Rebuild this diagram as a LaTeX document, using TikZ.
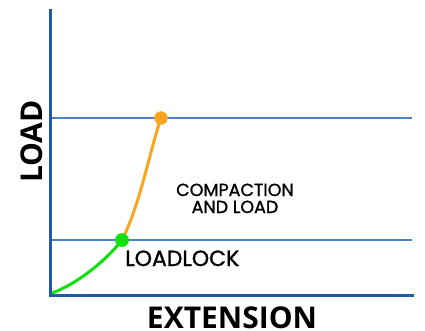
\documentclass[tikz,border=0pt]{standalone}
\usepackage{fontspec}
\newfontfamily\labfont{Poppins}[FakeBold=1.2]
\newfontfamily\axfont{Open Sans}
\definecolor{axisblue}{HTML}{1F5AA8}
\definecolor{gridblue}{HTML}{4D80C4}
\definecolor{lockgreen}{HTML}{10E010}
\definecolor{loadorange}{HTML}{F9A51E}
\begin{document}
\begin{tikzpicture}[x=1pt,y=-1pt,
  axisline/.style={draw=axisblue,line width=3pt},
  gridline/.style={draw=gridblue,line width=1.5pt},
  dot/.style={circle,inner sep=0pt,minimum size=13.5pt},
  lab/.style={font=\labfont\fontsize{17.5}{17}\selectfont,text=black,inner sep=0pt},
  biglab/.style={font=\labfont\fontsize{22}{24}\selectfont,text=black,inner sep=0pt},
  axlab/.style={font=\axfont\bfseries\fontsize{30}{34}\selectfont,text=black,inner sep=0pt}]
\useasboundingbox (0,0) rectangle (425,331);
\coordinate (top) at (50,11);
\coordinate (origin) at (50,295);
\coordinate (xend) at (412,295);
\coordinate (h1a) at (51,118);
\coordinate (h1b) at (412,118);
\coordinate (h2a) at (51,240);
\coordinate (h2b) at (412,240);
\draw[gridline] (h1a) -- (h1b);
\draw[gridline] (h2a) -- (h2b);
\draw[axisline,line cap=rect] (top) -- (origin) -- (xend);
\node[dot,fill=lockgreen] (lock) at (122,240) {};
\node[dot,fill=loadorange] (peak) at (161,118) {};
\coordinate (start) at (52,293);
\draw[lockgreen,line width=3pt] (start) .. controls (75,285) and (105,262) .. (lock.center);
\draw[loadorange,line width=3pt] (lock.center) .. controls (140,205) and (150,150) .. (peak.center);
\fill[lockgreen] (lock) circle (6.75);
\node[lab,anchor=base] (comp) at (235,196) {COMPACTION};
\node[lab,anchor=base] (comp2) at (235,213) {AND LOAD};
\node[biglab,anchor=base west] (ll) at (125,266) {LOADLOCK};
\node[axlab,anchor=base] (ext) at (232,328) {EXTENSION};
\node[axlab,anchor=base,rotate=90] (load) at (42,141.5) {LOAD};
\end{tikzpicture}
\end{document}
